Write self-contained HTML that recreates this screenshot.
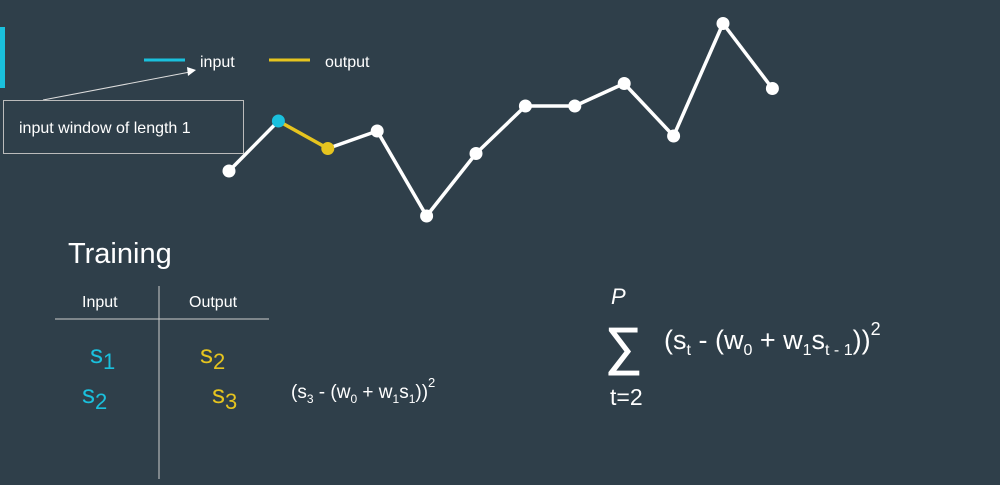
<!DOCTYPE html>
<html><head><meta charset="utf-8"><style>
html,body{margin:0;padding:0;width:1000px;height:485px;overflow:hidden;background:#2f3f4a;font-family:"Liberation Sans","DejaVu Sans",sans-serif;color:#fff}
svg{position:absolute;left:0;top:0}
text{font-family:"Liberation Sans","DejaVu Sans",sans-serif}
</style></head><body>
<svg width="1000" height="485">
<rect x="0" y="27" width="5" height="61" fill="#1ac0dd"/>
<g>
<line x1="144" y1="60" x2="185" y2="60" stroke="#1ac0dd" stroke-width="3"/>
<text x="200" y="67" font-size="16" fill="#fff">input</text>
<line x1="269" y1="60" x2="310" y2="60" stroke="#e6c41f" stroke-width="3"/>
<text x="325" y="67" font-size="16" fill="#fff">output</text>
</g>
<line x1="43" y1="100" x2="190" y2="72" stroke="#ddd" stroke-width="1"/>
<polygon points="196,70 187,67 188,76" fill="#fff"/>
<rect x="3.5" y="100.5" width="240" height="53" fill="none" stroke="#bbb" stroke-width="1"/>
<text x="19" y="133" font-size="16" fill="#fff">input window of length 1</text>
<g id="series"></g>

<text x="68" y="263" font-size="29" fill="#fff">Training</text>
<line x1="159" y1="286" x2="159" y2="479" stroke="#ccc" stroke-width="1"/>
<line x1="55" y1="319" x2="269" y2="319" stroke="#ccc" stroke-width="1"/>
<text x="82" y="307" font-size="16" fill="#fff">Input</text>
<text x="189" y="307" font-size="16" fill="#fff">Output</text>
<text x="90" y="363" font-size="26" fill="#1ac0dd">s<tspan font-size="22" dy="6">1</tspan></text>
<text x="82" y="403" font-size="26" fill="#1ac0dd">s<tspan font-size="22" dy="6">2</tspan></text>
<text x="200" y="363" font-size="26" fill="#e6c41f">s<tspan font-size="22" dy="6">2</tspan></text>
<text x="212" y="403" font-size="26" fill="#e6c41f">s<tspan font-size="22" dy="6">3</tspan></text>
<text x="291" y="398" font-size="19" fill="#fff">(s<tspan font-size="12" dy="5">3</tspan><tspan dy="-5"> - (w</tspan><tspan font-size="12" dy="5">0</tspan><tspan dy="-5"> + w</tspan><tspan font-size="12" dy="5">1</tspan><tspan dy="-5">s</tspan><tspan font-size="12" dy="5">1</tspan><tspan dy="-5">))</tspan><tspan font-size="13" dy="-11">2</tspan></text>
<g>
<text x="611" y="304" font-size="22" font-style="italic" fill="#fff">P</text>
<text x="605" y="364" font-size="52" fill="#fff" stroke="#fff" stroke-width="1">∑</text>
<text x="610" y="405" font-size="23" fill="#fff">t=2</text>
<text x="664" y="349" font-size="27" fill="#fff">(s<tspan font-size="16" dy="6">t</tspan><tspan dy="-6"> - (w</tspan><tspan font-size="16" dy="6">0</tspan><tspan dy="-6"> + w</tspan><tspan font-size="16" dy="6">1</tspan><tspan dy="-6">s</tspan><tspan font-size="16" dy="6">t - 1</tspan><tspan dy="-6">))</tspan><tspan font-size="18" dy="-14">2</tspan></text>
</g>
</svg>
<script>
const values = [2.3, 3.3, 2.75, 3.1, 1.4, 2.65, 3.6, 3.6, 4.05, 3.0, 5.25, 3.95];
const inputIdx = [1];
const outputIdx = [2];
const xS = i => 229 + 49.4 * i;
const yS = v => 286 - 50 * v;
const NS = "http://www.w3.org/2000/svg";
const g = document.getElementById('series');
for (let i = 0; i < values.length - 1; i++) {
  const l = document.createElementNS(NS, 'line');
  l.setAttribute('x1', xS(i)); l.setAttribute('y1', yS(values[i]));
  l.setAttribute('x2', xS(i+1)); l.setAttribute('y2', yS(values[i+1]));
  const col = (inputIdx.includes(i) && outputIdx.includes(i+1)) ? '#e6c41f' : '#fff';
  l.setAttribute('stroke', col); l.setAttribute('stroke-width', 3.5);
  
  
  g.appendChild(l);
}
values.forEach((v, i) => {
  const c = document.createElementNS(NS, 'circle');
  c.setAttribute('cx', xS(i)); c.setAttribute('cy', yS(v)); c.setAttribute('r', 6.5);
  const col = inputIdx.includes(i) ? '#1ac0dd' : outputIdx.includes(i) ? '#e6c41f' : '#fff';
  c.setAttribute('fill', col);
  
  
  g.appendChild(c);
});
</script>
</body></html>
